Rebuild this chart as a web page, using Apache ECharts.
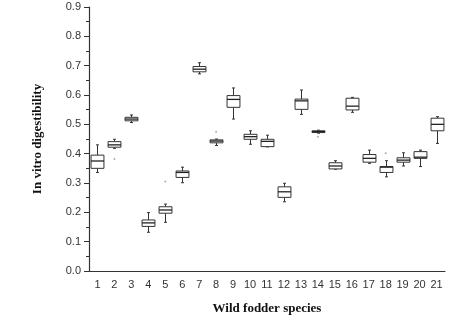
<!DOCTYPE html>
<html>
<head>
<meta charset="utf-8">
<script src="https://cdn.jsdelivr.net/npm/echarts@6/dist/echarts.min.js"></script>
<style>
  html, body { margin: 0; padding: 0; background: #fff; }
  #chart { width: 462px; height: 321px; }
</style>
</head>
<body>
<div id="chart"></div>
<script>
// species 1..21
var species = ['1','2','3','4','5','6','7','8','9','10','11','12','13','14','15','16','17','18','19','20','21'];

// [min, Q1, median, Q3, max]
var lows    = [0.336, 0.418, 0.506, 0.132, 0.166, 0.301, 0.672, 0.428, 0.518, 0.432, 0.423, 0.236, 0.534, 0.470, 0.347, 0.541, 0.367, 0.321, 0.358, 0.356, 0.435];
var q1s     = [0.350, 0.422, 0.512, 0.152, 0.197, 0.319, 0.679, 0.437, 0.558, 0.449, 0.424, 0.251, 0.551, 0.472, 0.348, 0.549, 0.371, 0.336, 0.371, 0.384, 0.478];
var medians = [0.375, 0.430, 0.518, 0.164, 0.208, 0.336, 0.688, 0.443, 0.585, 0.458, 0.442, 0.270, 0.580, 0.475, 0.358, 0.562, 0.384, 0.354, 0.378, 0.388, 0.500];
var q3s     = [0.395, 0.441, 0.524, 0.174, 0.219, 0.341, 0.697, 0.447, 0.598, 0.466, 0.449, 0.287, 0.586, 0.478, 0.369, 0.589, 0.397, 0.356, 0.386, 0.407, 0.521];
var highs   = [0.430, 0.449, 0.532, 0.199, 0.228, 0.354, 0.710, 0.450, 0.624, 0.478, 0.463, 0.299, 0.617, 0.480, 0.376, 0.592, 0.412, 0.376, 0.403, 0.412, 0.526];

// stray points
var outlierIdx = [1, 4, 7, 13, 17];
var outlierVal = [0.382, 0.305, 0.475, 0.458, 0.401];

var yTicks = [0, 0.1, 0.2, 0.3, 0.4, 0.5, 0.6, 0.7, 0.8, 0.9];

var boxData = species.map(function (s, i) {
  return [i, lows[i], q1s[i], medians[i], q3s[i], highs[i]];
});
var outlierData = outlierIdx.map(function (idx, k) {
  return [idx, outlierVal[k]];
});

var chart = echarts.init(document.getElementById('chart'));

function renderBox(params, api) {
  var x = api.value(0);
  var pLow = api.coord([x, api.value(1)]);
  var pQ1 = api.coord([x, api.value(2)]);
  var pMed = api.coord([x, api.value(3)]);
  var pQ3 = api.coord([x, api.value(4)]);
  var pHigh = api.coord([x, api.value(5)]);
  var w = api.size([1, 0])[0] * 0.76;
  var cx = Math.round(pMed[0]) + 0.5;
  var half = w / 2;
  var cap = 1.5;
  var stroke = { stroke: '#333', lineWidth: 1, fill: null };
  return {
    type: 'group',
    children: [
      { type: 'line', shape: { x1: cx, y1: pHigh[1], x2: cx, y2: pQ3[1] }, style: stroke },
      { type: 'line', shape: { x1: cx, y1: pQ1[1], x2: cx, y2: pLow[1] }, style: stroke },
      { type: 'line', shape: { x1: cx - cap, y1: pHigh[1], x2: cx + cap, y2: pHigh[1] }, style: stroke },
      { type: 'line', shape: { x1: cx - cap, y1: pLow[1], x2: cx + cap, y2: pLow[1] }, style: stroke },
      { type: 'rect', shape: { x: cx - half, y: pQ3[1], width: w, height: pQ1[1] - pQ3[1] },
        style: { fill: '#fff', stroke: '#333', lineWidth: 1 } },
      { type: 'line', shape: { x1: cx - half, y1: pMed[1], x2: cx + half, y2: pMed[1] },
        style: { stroke: '#222', lineWidth: 1.3 } }
    ]
  };
}

var option = {
  animation: false,
  backgroundColor: '#fff',
  grid: { left: 89, right: 17, top: 7, bottom: 50 },
  xAxis: {
    type: 'category',
    data: species,
    boundaryGap: true,
    name: 'Wild fodder species',
    nameLocation: 'middle',
    nameGap: 31,
    nameTextStyle: { fontFamily: 'Liberation Serif', fontWeight: 'bold', fontSize: 13, color: '#111' },
    axisLine: { lineStyle: { color: '#333', width: 1.2 } },
    axisTick: { alignWithLabel: true, length: 5, lineStyle: { color: '#333' } },
    axisLabel: { fontFamily: 'Liberation Sans', fontSize: 11, color: '#333', margin: 8, interval: 0 },
    splitLine: { show: false }
  },
  yAxis: {
    type: 'value',
    min: 0,
    max: 0.9,
    interval: 0.1,
    name: 'In vitro digestibility',
    nameLocation: 'middle',
    nameGap: 45,
    nameTextStyle: { fontFamily: 'Liberation Serif', fontWeight: 'bold', fontSize: 13, color: '#111' },
    axisLine: { show: true, lineStyle: { color: '#333', width: 1.2 } },
    axisTick: { show: true, length: 5, lineStyle: { color: '#333' } },
    minorTick: { show: true, splitNumber: 2, length: 3, lineStyle: { color: '#333' } },
    axisLabel: {
      fontFamily: 'Liberation Sans', fontSize: 11, color: '#333', margin: 8,
      formatter: function (v) { return v.toFixed(1); }
    },
    splitLine: { show: false }
  },
  series: [
    {
      type: 'custom',
      renderItem: renderBox,
      encode: { x: 0, y: [1, 2, 3, 4, 5] },
      data: boxData
    },
    {
      type: 'scatter',
      symbol: 'circle',
      symbolSize: 2,
      itemStyle: { color: '#999' },
      data: outlierData
    }
  ]
};

chart.setOption(option);
</script>
</body>
</html>
